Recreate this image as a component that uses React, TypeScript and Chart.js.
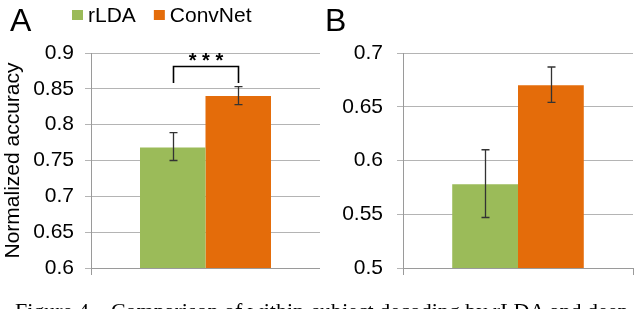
import React, { useEffect, useRef } from "react";
import { Chart, registerables } from "chart.js";

Chart.register(...registerables);

// ---- data ----
const seriesNames = ["rLDA", "ConvNet"];
const seriesColors = ["#9BBB59", "#E46C0A"];
const categories = [""];

const panelAMeans = [0.768, 0.84];
const panelAErrLow = [0.75, 0.828];
const panelAErrHigh = [0.789, 0.853];
const panelAMin = 0.6;
const panelAMax = 0.9;

const panelBMeans = [0.578, 0.67];
const panelBErrLow = [0.547, 0.654];
const panelBErrHigh = [0.61, 0.687];
const panelBMin = 0.5;
const panelBMax = 0.7;

const tickStep = 0.05;
const yTitle = "Normalized accuracy";
const panelLetters = ["A", "B"];

const sigText = "* * *";
const sigBracketTop = 0.882;
const sigBracketLeg = 0.858;
const sigTextValue = 0.892;

const caption =
  "Figure 4 \u2013 Comparison of within-subject decoding by rLDA and deep";

const FONT = "'Liberation Sans', Arial, sans-serif";

const overlayPlugin = {
  id: "overlay",
  afterDatasetsDraw(chart: any, _args: any, opts: any) {
    const ctx = chart.ctx;
    const y = chart.scales.y;
    ctx.save();
    // error bars
    ctx.strokeStyle = "#333";
    ctx.lineWidth = 1.3;
    chart.data.datasets.forEach((_ds: any, i: number) => {
      const meta = chart.getDatasetMeta(i);
      meta.data.forEach((bar: any) => {
        const x = Math.round(bar.x) + 0.5;
        const lo = y.getPixelForValue(opts.errLow[i]);
        const hi = y.getPixelForValue(opts.errHigh[i]);
        ctx.beginPath();
        ctx.moveTo(x, lo);
        ctx.lineTo(x, hi);
        ctx.moveTo(x - 4, lo);
        ctx.lineTo(x + 4, lo);
        ctx.moveTo(x - 4, hi);
        ctx.lineTo(x + 4, hi);
        ctx.stroke();
      });
    });
    // significance bracket
    if (opts.sig) {
      const x0 = Math.round(chart.getDatasetMeta(0).data[0].x) + 0.5;
      const x1 = Math.round(chart.getDatasetMeta(1).data[0].x) + 0.5;
      const yt = Math.round(y.getPixelForValue(sigBracketTop)) + 0.5;
      const yl = y.getPixelForValue(sigBracketLeg);
      ctx.strokeStyle = "#000";
      ctx.lineWidth = 1.6;
      ctx.beginPath();
      ctx.moveTo(x0, yl);
      ctx.lineTo(x0, yt);
      ctx.lineTo(x1, yt);
      ctx.lineTo(x1, yl);
      ctx.stroke();
      ctx.fillStyle = "#000";
      ctx.font = `bold 20px ${FONT}`;
      ctx.textAlign = "center";
      ctx.textBaseline = "middle";
      ctx.fillText(sigText, (x0 + x1) / 2, y.getPixelForValue(sigTextValue) + 3);
    }
    // panel letter
    ctx.fillStyle = "#000";
    ctx.textAlign = "left";
    ctx.textBaseline = "alphabetic";
    ctx.font = `32px ${FONT}`;
    ctx.fillText(opts.letter, opts.letterX, 31);
    // legend
    if (opts.legend) {
      let x = 72;
      ctx.font = `21px ${FONT}`;
      chart.data.datasets.forEach((ds: any) => {
        ctx.fillStyle = ds.backgroundColor;
        ctx.fillRect(x, 10, 11, 10);
        x += 16;
        ctx.fillStyle = "#000";
        ctx.fillText(ds.label, x, 22);
        x += ctx.measureText(ds.label).width + 18;
      });
    }
    ctx.restore();
  },
};

type PanelProps = {
  means: number[];
  errLow: number[];
  errHigh: number[];
  min: number;
  max: number;
  letter: string;
  letterX: number;
  title?: string;
  legend?: boolean;
  sig?: boolean;
  yWidth: number;
  tickPad: number;
  padRight: number;
  left: number;
};

function Panel(p: PanelProps) {
  const ref = useRef<HTMLCanvasElement>(null);
  useEffect(() => {
    if (!ref.current) return;
    const chart = new Chart(ref.current, {
      type: "bar",
      data: {
        labels: categories,
        datasets: seriesNames.map((name, i) => ({
          label: name,
          data: [p.means[i]],
          backgroundColor: seriesColors[i],
          borderWidth: 0,
          categoryPercentage: 0.572,
          barPercentage: 1,
        })),
      },
      options: {
        responsive: false,
        animation: false,
        devicePixelRatio: 1,
        layout: { padding: { left: 0, top: 53, right: p.padRight, bottom: 25 } },
        plugins: {
          legend: { display: false },
          tooltip: { enabled: false },
          overlay: {
            errLow: p.errLow,
            errHigh: p.errHigh,
            letter: p.letter,
            letterX: p.letterX,
            legend: !!p.legend,
            sig: !!p.sig,
          },
        } as any,
        scales: {
          x: {
            ticks: { display: false },
            grid: {
              display: true,
              drawOnChartArea: false,
              offset: true,
              tickLength: 7,
              color: "#9a9a9a",
            },
            border: { display: true, color: "#9a9a9a" },
            afterFit: (s: any) => {
              s.height = 7;
            },
          },
          y: {
            min: p.min,
            max: p.max,
            ticks: {
              stepSize: tickStep,
              color: "#000",
              padding: p.tickPad,
              font: { family: FONT, size: 21 },
              callback: (v: any) => String(parseFloat(Number(v).toFixed(2))),
            },
            grid: { color: "#b4b4b4", tickLength: 6, lineWidth: 1 },
            border: { display: true, color: "#9a9a9a" },
            title: {
              display: !!p.title,
              text: p.title || "",
              color: "#000",
              font: { family: FONT, size: 21 },
              padding: { top: 1, bottom: 0 },
            },
            afterFit: (s: any) => {
              s.width = p.yWidth;
            },
          },
        },
      },
      plugins: [overlayPlugin as any],
    });
    return () => chart.destroy();
  }, []);
  return (
    <canvas
      ref={ref}
      width={320}
      height={300}
      style={{ position: "absolute", left: p.left, top: 0, width: 320, height: 300 }}
    />
  );
}

export default function App() {
  return (
    <div
      style={{
        position: "fixed",
        left: 0,
        top: 0,
        width: 640,
        height: 309,
        overflow: "hidden",
        background: "#fff",
      }}
    >
      <Panel
        means={panelAMeans}
        errLow={panelAErrLow}
        errHigh={panelAErrHigh}
        min={panelAMin}
        max={panelAMax}
        letter={panelLetters[0]}
        letterX={10}
        title={yTitle}
        legend
        sig
        yWidth={91}
        tickPad={11}
        padRight={0}
        left={0}
      />
      <Panel
        means={panelBMeans}
        errLow={panelBErrLow}
        errHigh={panelBErrHigh}
        min={panelBMin}
        max={panelBMax}
        letter={panelLetters[1]}
        letterX={5}
        yWidth={83}
        tickPad={14}
        padRight={7}
        left={320}
      />
      <div
        style={{
          position: "absolute",
          left: 15,
          top: 300,
          fontFamily: "'Liberation Serif', 'Times New Roman', serif",
          fontSize: 22,
          whiteSpace: "nowrap",
          color: "#000",
          lineHeight: "22px",
        }}
      >
        {caption}
      </div>
    </div>
  );
}
